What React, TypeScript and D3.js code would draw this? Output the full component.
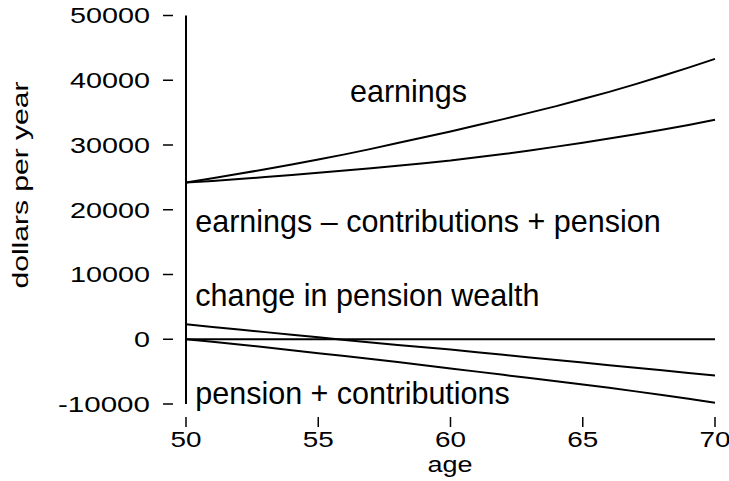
import React from "react";
import * as d3 from "d3";

const ages = [50, 51, 52, 53, 54, 55, 56, 57, 58, 59, 60, 61, 62, 63, 64, 65, 66, 67, 68, 69, 70];
const earnings = [24200, 24850, 25550, 26250, 27000, 27750, 28550, 29400, 30300, 31200, 32100, 33050, 34000, 35000, 36000, 37100, 38200, 39400, 40650, 41950, 43300];
const netIncome = [24200, 24450, 24750, 25050, 25350, 25700, 26050, 26400, 26800, 27200, 27600, 28100, 28600, 29150, 29750, 30350, 31000, 31650, 32350, 33100, 33900];
const pensionWealthChange = [2300, 1900, 1500, 1100, 700, 300, -100, -500, -900, -1250, -1600, -2000, -2400, -2800, -3200, -3600, -4000, -4400, -4800, -5200, -5600];
const zeroLine = [0, 0, 0, 0, 0, 0, 0, 0, 0, 0, 0, 0, 0, 0, 0, 0, 0, 0, 0, 0, 0];
const pensionPlusContrib = [0, -400, -800, -1250, -1700, -2150, -2600, -3050, -3500, -4000, -4500, -5000, -5500, -6000, -6500, -7000, -7500, -8050, -8600, -9200, -9800];

const xTicks = [50, 55, 60, 65, 70];
const yTicks = [-10000, 0, 10000, 20000, 30000, 40000, 50000];

const seriesLabels = [
  { text: "earnings", age: 56.2, value: 36700 },
  { text: "earnings \u2013 contributions + pension", age: 50.35, value: 16500 },
  { text: "change in pension wealth", age: 50.35, value: 5150 },
  { text: "pension + contributions", age: 50.35, value: -10000 },
];

export default function App() {
  const x = d3.scaleLinear().domain([50, 70]).range([186, 715]);
  const y = d3.scaleLinear().domain([-10000, 50000]).range([404, 15.5]);
  const line = d3
    .line<number>()
    .x((_, i) => x(ages[i]))
    .y((d) => y(d));
  const series = [earnings, netIncome, pensionWealthChange, zeroLine, pensionPlusContrib];
  const font = "'Liberation Sans', Arial, Helvetica, sans-serif";

  return (
    <svg width={729} height={481} style={{ position: "absolute", left: 0, top: 0, background: "#fff" }} fontFamily={font}>
      <rect x={0} y={0} width={729} height={481} fill="#fff" />
      <line x1={x(50)} x2={x(50)} y1={y(50000)} y2={y(-10000)} stroke="#000" strokeWidth={2} />
      {yTicks.map((t) => {
        const label = String(t).replace("\u2212", "-");
        const len = label.startsWith("-") ? 92 : label.length * 16;
        return (
          <g key={t}>
            <line x1={163} x2={173} y1={y(t)} y2={y(t)} stroke="#000" strokeWidth={1.5} />
            <text
              x={150}
              y={y(t)}
              dy="0.36em"
              textAnchor="end"
              fontSize={22}
              textLength={len}
              lengthAdjust="spacingAndGlyphs"
              fill="#000"
            >
              {label}
            </text>
          </g>
        );
      })}
      {xTicks.map((t) => (
        <g key={t}>
          <line x1={x(t)} x2={x(t)} y1={417} y2={427} stroke="#000" strokeWidth={1.5} />
          <text
            x={x(t)}
            y={447}
            textAnchor="middle"
            fontSize={22}
            textLength={String(t).length * 15.5}
            lengthAdjust="spacingAndGlyphs"
            fill="#000"
          >
            {t}
          </text>
        </g>
      ))}
      <text x={450} y={472} textAnchor="middle" fontSize={22} textLength={45} lengthAdjust="spacingAndGlyphs" fill="#000">
        age
      </text>
      <text
        transform={`translate(28,185) rotate(-90)`}
        textAnchor="middle"
        fontSize={22}
        textLength={207}
        lengthAdjust="spacingAndGlyphs"
        fill="#000"
      >
        dollars per year
      </text>
      {series.map((s, i) => (
        <path key={i} d={line(s) || ""} fill="none" stroke="#000" strokeWidth={2} />
      ))}
      {seriesLabels.map((l) => (
        <text key={l.text} x={x(l.age)} y={y(l.value)} fontSize={30.5} fill="#000">
          {l.text}
        </text>
      ))}
    </svg>
  );
}
